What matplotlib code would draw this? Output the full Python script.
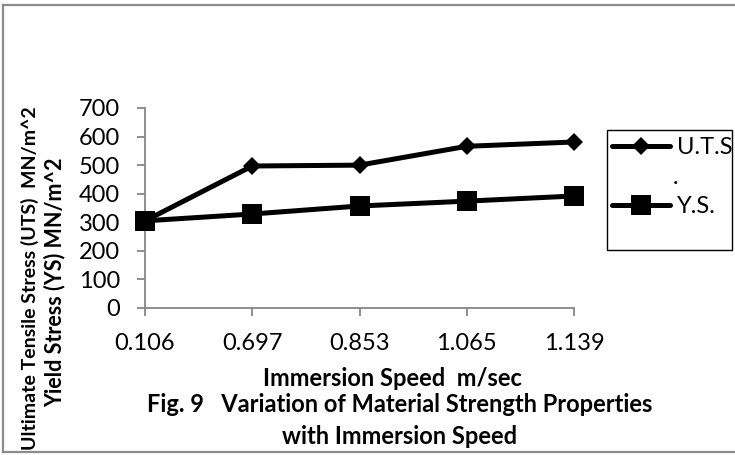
import matplotlib
matplotlib.use("Agg")
import matplotlib.pyplot as plt
from matplotlib.lines import Line2D
from matplotlib.patches import Rectangle

categories = ["0.106", "0.697", "0.853", "1.065", "1.139"]
uts = [305, 497, 500, 566, 581]
ys = [305, 329, 357, 374, 392]
yticks = [0, 100, 200, 300, 400, 500, 600, 700]

plt.rcParams['font.family'] = ['Lato', 'DejaVu Sans']
FS = 17

W, H = 735, 455
fig = plt.figure(figsize=(W / 100, H / 100), dpi=100)
ax = fig.add_axes([145 / W, 1 - 308 / H, 429 / W, 200 / H])

x = list(range(len(categories)))
l1, = ax.plot(x, uts, color='black', lw=3.6, marker='D', markersize=9.5,
              markeredgewidth=0, solid_capstyle='round', label='U.T.S', zorder=3)
l2, = ax.plot(x, ys, color='black', lw=3.6, marker='s', markersize=14,
              markeredgewidth=0, solid_capstyle='round', label='Y.S.', zorder=3)

ax.set_xlim(0, len(categories) - 1)
ax.set_ylim(0, 700)
ax.set_xticks(x)
ax.set_xticklabels(categories)
ax.set_yticks(yticks)
for s in ['top', 'right']:
    ax.spines[s].set_visible(False)
for s in ['left', 'bottom']:
    ax.spines[s].set_color('#868686')
    ax.spines[s].set_linewidth(1.3)
ax.tick_params(axis='both', direction='out', length=6, width=1.3, color='#868686',
               labelsize=FS, pad=12)
ax.patch.set_alpha(0)
for ln in (l1, l2):
    ln.set_clip_on(False)

leg = fig.legend(handles=[l1, l2], loc='upper left',
                 bbox_to_anchor=(612 / W, 1 - 137 / H), fontsize=FS,
                 frameon=False, handlelength=2.45, handletextpad=0.3,
                 labelspacing=1.6, borderpad=0.0, borderaxespad=0)
fig.add_artist(Rectangle((607 / W, 1 - 250 / H), 125 / W, 120 / H,
                         transform=fig.transFigure, fill=False,
                         edgecolor='black', lw=1.0))
fig.text(676 / W, 1 - 177 / H, '.', fontsize=FS, ha='center', va='center')

fig.text(392 / W, 1 - 378 / H, 'Immersion Speed  m/sec', fontsize=FS,
         fontweight='bold', ha='center', va='center')
fig.text(400 / W, 1 - 405 / H, 'Fig. 9   Variation of Material Strength Properties',
         fontsize=FS, fontweight='bold', ha='center', va='center')
fig.text(400 / W, 1 - 436 / H, 'with Immersion Speed', fontsize=FS,
         fontweight='bold', ha='center', va='center')

fig.text(30 / W, 1 - 278 / H, 'Ultimate Tensile Stress (UTS)  MN/m^2', fontsize=14,
         fontweight='bold', rotation=90, ha='center', va='center')
fig.text(55 / W, 1 - 282 / H, 'Yield Stress (YS) MN/m^2', fontsize=15.5,
         fontweight='bold', rotation=90, ha='center', va='center')

gray = '#8c8c8c'
fig.add_artist(Line2D([3 / W, 1], [1 - 5 / H, 1 - 5 / H], color=gray, lw=1.6,
                      transform=fig.transFigure))
fig.add_artist(Line2D([3 / W, 3 / W], [1 - 5 / H, 1 - 452 / H], color=gray, lw=1.6,
                      transform=fig.transFigure))
fig.add_artist(Line2D([3 / W, 1], [1 - 452 / H, 1 - 452 / H], color=gray, lw=1.6,
                      transform=fig.transFigure))

fig.savefig('out.png', dpi=100)
